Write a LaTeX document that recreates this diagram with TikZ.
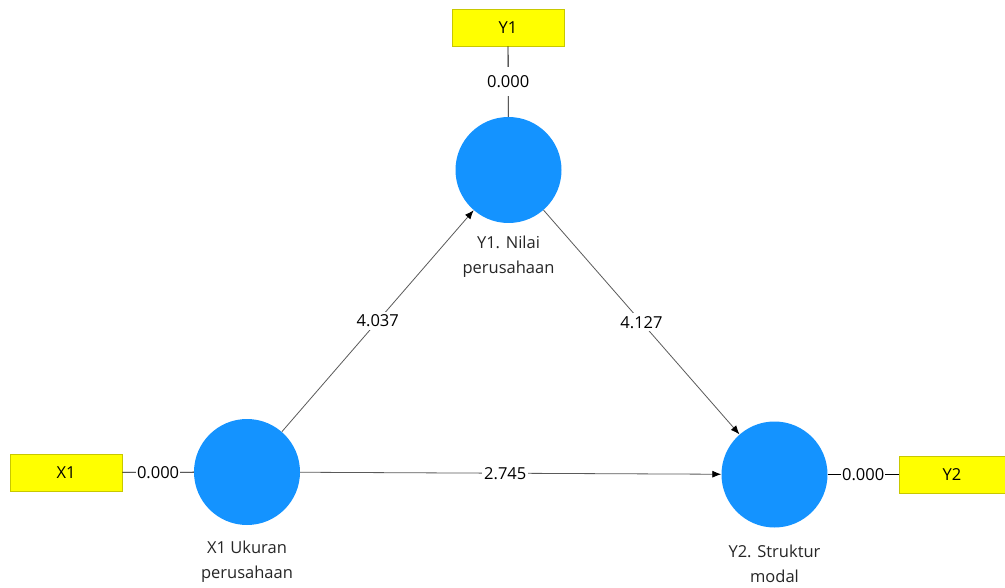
\documentclass[tikz,border=0pt]{standalone}
\usepackage{fontspec}
\setmainfont{Open Sans}
\usetikzlibrary{arrows.meta}
\definecolor{lvblue}{RGB}{20,147,255}
\definecolor{mvyellow}{RGB}{255,255,0}
\definecolor{mvborder}{RGB}{200,200,0}
\definecolor{linegray}{RGB}{90,90,90}
\begin{document}
\begin{tikzpicture}[x=1pt,y=-1pt,
  every node/.style={font=\fontsize{16.5}{20}\selectfont},
  latent/.style={circle,fill=lvblue,minimum size=106pt,inner sep=0pt},
  manifest/.style={rectangle,fill=mvyellow,draw=mvborder,line width=0.8pt,minimum width=112pt,minimum height=37pt,inner sep=0pt},
  lvname/.style={align=center,text=black!85,font=\fontsize{16.5}{25}\selectfont},
  path/.style={draw=linegray,line width=0.8pt,-{Latex[length=9pt,width=7pt,black]}},
  loadline/.style={draw=black,line width=0.8pt},
  coef/.style={fill=white,inner xsep=2pt,inner ysep=3pt},
  loadlab/.style={fill=white,inner xsep=1pt,inner ysep=8pt}
]
\useasboundingbox[fill=white] (0,0) rectangle (1005,588);

\node[latent] (Y1c) at (508.5,170) {};
\node[latent] (X1c) at (247,472) {};
\node[latent] (Y2c) at (774.5,474.5) {};

\node[manifest] (Y1b) at (508,27.5) {Y1};
\node[manifest] (X1b) at (66,472.5) {X1};
\node[manifest,minimum width=106pt] (Y2b) at (952,474.5) {Y2};

\node[lvname] (Y1n) at (508.5,257) {Y1. Nilai\\perusahaan};
\node[lvname] (X1n) at (247,562) {X1 Ukuran\\perusahaan};
\node[lvname] (Y2n) at (774.5,564) {Y2. Struktur\\modal};

\draw[loadline] (Y1b) -- node[loadlab] {0.000} (Y1c);
\draw[loadline] (X1b) -- node[loadlab] {0.000} (X1c);
\draw[loadline] (Y2c) -- node[loadlab] {0.000} (Y2b);

\draw[path] (X1c) -- node[coef] {4.037} (Y1c);
\draw[path] (Y1c) -- node[coef] {4.127} (Y2c);
\draw[path] (X1c) -- node[coef,pos=0.487] {2.745} (Y2c);
\end{tikzpicture}
\end{document}
